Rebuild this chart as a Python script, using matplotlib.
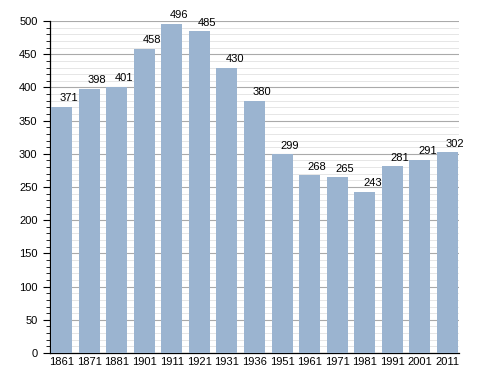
import matplotlib
matplotlib.use("Agg")
import matplotlib.pyplot as plt
from matplotlib.ticker import MultipleLocator

years = ["1861", "1871", "1881", "1901", "1911", "1921", "1931", "1936",
         "1951", "1961", "1971", "1981", "1991", "2001", "2011"]
population = [371, 398, 401, 458, 496, 485, 430, 380, 299, 268, 265, 243, 281, 291, 302]

plt.rcParams['font.family'] = ['Liberation Sans', 'DejaVu Sans']

fig = plt.figure(figsize=(4.88, 3.73), dpi=100)
ax = fig.add_axes([0.1025, 0.0536, 0.838, 0.89])

x = range(len(years))
bars = ax.bar(x, population, width=0.76, color='#9bb4d0', zorder=3)
# labels sit a little to the right of the bar centre, as in the original
for xi, v in zip(x, population):
    ax.annotate(str(v), (xi, v), xytext=(5.5, 2.5), textcoords='offset points',
                ha='center', va='bottom', fontsize=8, zorder=4)

ax.set_xlim(-0.42, len(years) - 0.58)
ax.set_ylim(0, 500)
ax.set_xticks(list(x))
ax.set_xticklabels(years, fontsize=8)
ax.tick_params(axis='x', length=0, pad=3)

ax.yaxis.set_major_locator(MultipleLocator(50))
ax.yaxis.set_minor_locator(MultipleLocator(10))
ax.tick_params(axis='y', which='major', length=5, width=0.8, labelsize=8, pad=4)
ax.tick_params(axis='y', which='minor', length=3, width=0.6)

ax.grid(axis='y', which='major', color='#aaaaaa', linewidth=0.8, zorder=0)
ax.grid(axis='y', which='minor', color='#e2e2e2', linewidth=0.6, zorder=0)

for s in ['top', 'right']:
    ax.spines[s].set_visible(False)
ax.spines['left'].set_linewidth(0.9)
ax.spines['bottom'].set_linewidth(0.9)

fig.savefig("out.png", dpi=100)
